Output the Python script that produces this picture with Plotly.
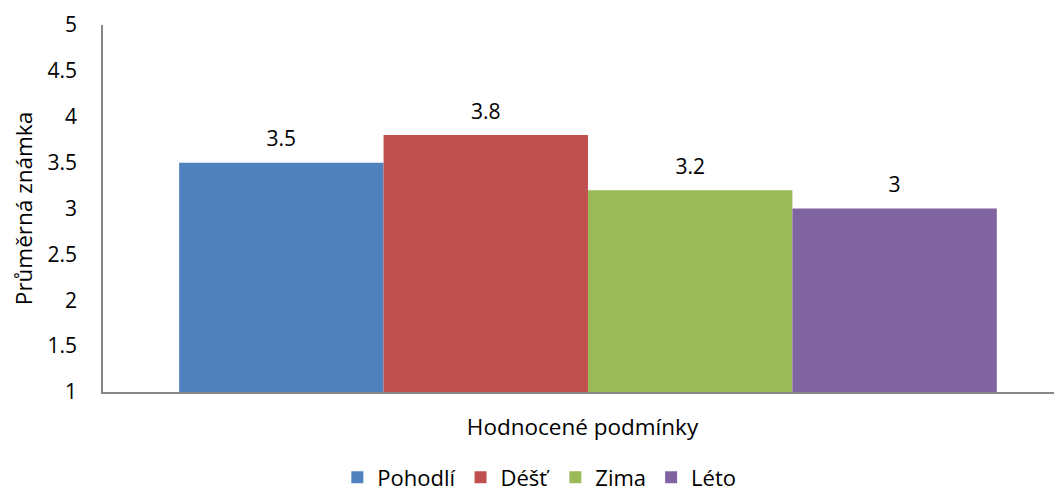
import plotly.graph_objects as go

# Data
series = ["Pohodlí", "Déšť", "Zima", "Léto"]
values = [3.5, 3.8, 3.2, 3.0]
labels = ["3.5", "3.8", "3.2", "3"]
colors = ["#4F81BD", "#C0504D", "#9BBB59", "#8064A2"]
category = [""]

FONT = "Open Sans, Liberation Sans, sans-serif"
GAP = 0.157

fig = go.Figure()
for name, val, col in zip(series, values, colors):
    fig.add_trace(go.Bar(
        x=category, y=[val - 1], base=1,
        name=name, marker_color=col, marker_line_width=0,
        offsetgroup=name,
    ))

# value labels floating above the bars
for name, val, lab in zip(series, values, labels):
    fig.add_trace(go.Scatter(
        x=category, y=[val], mode="markers+text",
        text=[lab], textposition="top center",
        textfont=dict(size=21, color="#000000"),
        marker=dict(size=16, opacity=0),
        offsetgroup=name, showlegend=False, hoverinfo="skip",
        cliponaxis=False,
    ))

# page body adds an 8px offset, so the figure is 8px smaller than the window
fig.update_layout(
    width=1054, height=485,
    margin=dict(l=95, r=0, t=17, b=101, autoexpand=False),
    barmode="group", bargap=GAP, bargroupgap=0,
    scattermode="group", scattergap=GAP,
    plot_bgcolor="white", paper_bgcolor="white",
    font=dict(family=FONT, size=21, color="#000000"),
    showlegend=True,
    legend=dict(orientation="h", x=0.455, xanchor="center", y=-0.233, yanchor="middle",
                font=dict(size=22), itemwidth=30, traceorder="normal"),
    xaxis=dict(
        range=[-0.5, 0.4887], showline=True, linecolor="#868686", linewidth=1.5,
        showgrid=False, showticklabels=False, ticks="", automargin=False,
        title=dict(text="Hodnocené podmínky", font=dict(size=22.5), standoff=26),
    ),
    yaxis=dict(
        range=[1, 5], dtick=0.5, showline=True, linecolor="#868686", linewidth=1.5,
        showgrid=False, ticks="", zeroline=False, ticklabelstandoff=20,
        tickfont=dict(size=21), automargin=False,
        title=dict(text="Průměrná známka", font=dict(size=22.5), standoff=17),
    ),
)

fig.write_html("out.html")
